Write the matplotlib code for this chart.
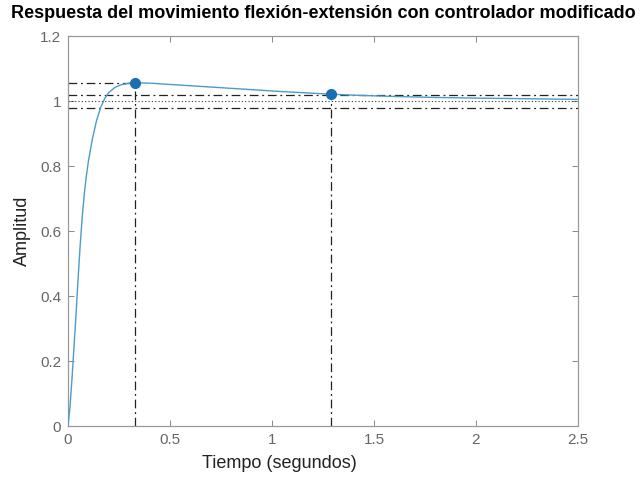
import matplotlib
matplotlib.use("Agg")
import matplotlib.pyplot as plt

plt.rcParams["font.family"] = ["Liberation Sans", "DejaVu Sans"]

# step response
t = [0, 0.01, 0.02, 0.03, 0.04, 0.05, 0.06, 0.07, 0.08, 0.09, 0.10, 0.12,
     0.14, 0.16, 0.18, 0.20, 0.23, 0.26, 0.30, 0.33, 0.40, 0.50, 0.60, 0.75,
     0.90, 1.05, 1.20, 1.29, 1.40, 1.60, 1.80, 2.00, 2.25, 2.50]
y = [0, 0.06, 0.15, 0.25, 0.35, 0.46, 0.56, 0.645, 0.715, 0.77, 0.815, 0.885,
     0.94, 0.98, 1.008, 1.026, 1.042, 1.050, 1.055, 1.056, 1.055, 1.051, 1.047,
     1.041, 1.035, 1.029, 1.024, 1.021, 1.018, 1.014, 1.011, 1.009, 1.007, 1.005]

peak_t, peak_y = 0.33, 1.056
settle_t, settle_y = 1.29, 1.021
final_value = 1.0
band = [0.98, 1.02]

xticks = [0, 0.5, 1, 1.5, 2, 2.5]
yticks = [0, 0.2, 0.4, 0.6, 0.8, 1, 1.2]

LINE = "#4a9ccb"
MARK = "#1a6fb3"
DASHDOT = (0, (7, 3, 1.5, 3))

fig = plt.figure(figsize=(6.41, 4.79), dpi=100)
ax = fig.add_axes([0.1061, 0.1106, 0.7956, 0.8142])

ax.plot(t, y, color=LINE, lw=1.0, zorder=3)

# characteristics (MATLAB stepplot style)
ax.axhline(final_value, color="#333333", lw=0.8, ls=(0, (1, 2)), zorder=2)
for b in band:
    ax.axhline(b, color="#222222", lw=0.9, ls=DASHDOT, zorder=2)
ax.plot([0, peak_t], [peak_y, peak_y], color="#222222", lw=0.9, ls=DASHDOT, zorder=2)
ax.plot([peak_t, peak_t], [0, peak_y], color="#222222", lw=0.9, ls=DASHDOT, zorder=2)
ax.plot([settle_t, settle_t], [0, settle_y], color="#222222", lw=0.9, ls=DASHDOT, zorder=2)
ax.plot([peak_t, settle_t], [peak_y, settle_y], ls="none", marker="o", ms=7,
        color=MARK, zorder=4)

ax.set_xlim(0, 2.5)
ax.set_ylim(0, 1.2)
ax.set_xticks(xticks)
ax.set_xticklabels(["0", "0.5", "1", "1.5", "2", "2.5"])
ax.set_yticks(yticks)
ax.set_yticklabels(["0", "0.2", "0.4", "0.6", "0.8", "1", "1.2"])
ax.tick_params(direction="in", top=True, right=True, length=4, width=0.7,
               colors="#888888", labelcolor="#666666", labelsize=11, pad=5)
for s in ax.spines.values():
    s.set_color("#999999")
    s.set_linewidth(0.9)

ax.set_title("Respuesta del movimiento flexión-extensión con controlador modificado",
             fontsize=13, fontweight="bold", pad=13)
ax.set_xlabel("Tiempo (segundos)", fontsize=13, color="#222222")
ax.xaxis.set_label_coords(0.415, -0.075)
ax.set_ylabel("Amplitud", fontsize=13, color="#222222")
ax.yaxis.set_label_coords(-0.072, 0.5)

fig.savefig("out.png", dpi=100)
